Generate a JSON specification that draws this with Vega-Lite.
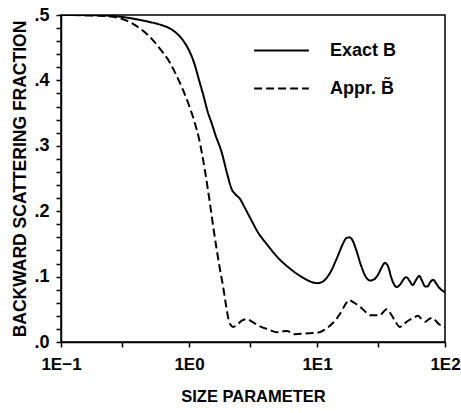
{
  "$schema": "https://vega.github.io/schema/vega-lite/v6.json",
  "width": 384,
  "height": 327,
  "autosize": {"type": "none"},
  "padding": {"left": 61, "top": 15, "right": 16, "bottom": 71},
  "background": "white",
  "config": {
    "font": "Liberation Sans",
    "view": {"stroke": "black", "strokeWidth": 1.5},
    "axis": {
      "domainColor": "black", "domainWidth": 1.5, "tickColor": "black", "tickWidth": 1.5,
      "labelColor": "black", "titleColor": "black", "labelFontWeight": "bold", "titleFontWeight": "bold",
      "labelFont": "Liberation Sans", "titleFont": "Liberation Sans", "grid": false
    },
    "legend": {"labelFont": "Liberation Sans"}
  },
  "data": {
    "values": [
      {"x": 0.1, "y": 0.5, "s": "Exact B"},
      {"x": 0.2, "y": 0.4995, "s": "Exact B"},
      {"x": 0.3, "y": 0.497, "s": "Exact B"},
      {"x": 0.4, "y": 0.493, "s": "Exact B"},
      {"x": 0.5, "y": 0.489, "s": "Exact B"},
      {"x": 0.6, "y": 0.485, "s": "Exact B"},
      {"x": 0.7, "y": 0.48, "s": "Exact B"},
      {"x": 0.8, "y": 0.472, "s": "Exact B"},
      {"x": 0.9, "y": 0.461, "s": "Exact B"},
      {"x": 1.0, "y": 0.446, "s": "Exact B"},
      {"x": 1.1, "y": 0.426, "s": "Exact B"},
      {"x": 1.2, "y": 0.4, "s": "Exact B"},
      {"x": 1.3, "y": 0.376, "s": "Exact B"},
      {"x": 1.4, "y": 0.352, "s": "Exact B"},
      {"x": 1.5, "y": 0.335, "s": "Exact B"},
      {"x": 1.6, "y": 0.318, "s": "Exact B"},
      {"x": 1.8, "y": 0.29, "s": "Exact B"},
      {"x": 2.0, "y": 0.255, "s": "Exact B"},
      {"x": 2.15, "y": 0.234, "s": "Exact B"},
      {"x": 2.3, "y": 0.226, "s": "Exact B"},
      {"x": 2.5, "y": 0.219, "s": "Exact B"},
      {"x": 2.7, "y": 0.207, "s": "Exact B"},
      {"x": 3.0, "y": 0.19, "s": "Exact B"},
      {"x": 3.5, "y": 0.166, "s": "Exact B"},
      {"x": 4.0, "y": 0.151, "s": "Exact B"},
      {"x": 5.0, "y": 0.128, "s": "Exact B"},
      {"x": 6.0, "y": 0.114, "s": "Exact B"},
      {"x": 7.0, "y": 0.104, "s": "Exact B"},
      {"x": 8.0, "y": 0.097, "s": "Exact B"},
      {"x": 9.0, "y": 0.092, "s": "Exact B"},
      {"x": 10, "y": 0.09, "s": "Exact B"},
      {"x": 11, "y": 0.092, "s": "Exact B"},
      {"x": 12, "y": 0.099, "s": "Exact B"},
      {"x": 13, "y": 0.11, "s": "Exact B"},
      {"x": 14, "y": 0.124, "s": "Exact B"},
      {"x": 15, "y": 0.138, "s": "Exact B"},
      {"x": 16, "y": 0.151, "s": "Exact B"},
      {"x": 17, "y": 0.159, "s": "Exact B"},
      {"x": 18, "y": 0.16, "s": "Exact B"},
      {"x": 19, "y": 0.155, "s": "Exact B"},
      {"x": 20, "y": 0.144, "s": "Exact B"},
      {"x": 22, "y": 0.118, "s": "Exact B"},
      {"x": 24, "y": 0.1, "s": "Exact B"},
      {"x": 26, "y": 0.094, "s": "Exact B"},
      {"x": 28, "y": 0.096, "s": "Exact B"},
      {"x": 30, "y": 0.103, "s": "Exact B"},
      {"x": 32, "y": 0.114, "s": "Exact B"},
      {"x": 34, "y": 0.121, "s": "Exact B"},
      {"x": 36, "y": 0.115, "s": "Exact B"},
      {"x": 38, "y": 0.099, "s": "Exact B"},
      {"x": 40, "y": 0.088, "s": "Exact B"},
      {"x": 42, "y": 0.084, "s": "Exact B"},
      {"x": 45, "y": 0.089, "s": "Exact B"},
      {"x": 48, "y": 0.097, "s": "Exact B"},
      {"x": 50, "y": 0.099, "s": "Exact B"},
      {"x": 53, "y": 0.093, "s": "Exact B"},
      {"x": 56, "y": 0.087, "s": "Exact B"},
      {"x": 59, "y": 0.094, "s": "Exact B"},
      {"x": 63, "y": 0.101, "s": "Exact B"},
      {"x": 66, "y": 0.094, "s": "Exact B"},
      {"x": 70, "y": 0.085, "s": "Exact B"},
      {"x": 73, "y": 0.085, "s": "Exact B"},
      {"x": 77, "y": 0.092, "s": "Exact B"},
      {"x": 81, "y": 0.095, "s": "Exact B"},
      {"x": 85, "y": 0.09, "s": "Exact B"},
      {"x": 90, "y": 0.083, "s": "Exact B"},
      {"x": 95, "y": 0.079, "s": "Exact B"},
      {"x": 100, "y": 0.076, "s": "Exact B"},
      {"x": 0.1, "y": 0.5, "s": "Appr. B̃"},
      {"x": 0.2, "y": 0.499, "s": "Appr. B̃"},
      {"x": 0.3, "y": 0.494, "s": "Appr. B̃"},
      {"x": 0.41, "y": 0.48, "s": "Appr. B̃"},
      {"x": 0.52, "y": 0.462, "s": "Appr. B̃"},
      {"x": 0.6, "y": 0.447, "s": "Appr. B̃"},
      {"x": 0.71, "y": 0.427, "s": "Appr. B̃"},
      {"x": 0.8, "y": 0.407, "s": "Appr. B̃"},
      {"x": 0.9, "y": 0.385, "s": "Appr. B̃"},
      {"x": 1.0, "y": 0.362, "s": "Appr. B̃"},
      {"x": 1.11, "y": 0.335, "s": "Appr. B̃"},
      {"x": 1.2, "y": 0.31, "s": "Appr. B̃"},
      {"x": 1.33, "y": 0.263, "s": "Appr. B̃"},
      {"x": 1.45, "y": 0.215, "s": "Appr. B̃"},
      {"x": 1.55, "y": 0.175, "s": "Appr. B̃"},
      {"x": 1.65, "y": 0.14, "s": "Appr. B̃"},
      {"x": 1.75, "y": 0.11, "s": "Appr. B̃"},
      {"x": 1.85, "y": 0.084, "s": "Appr. B̃"},
      {"x": 1.95, "y": 0.055, "s": "Appr. B̃"},
      {"x": 2.02, "y": 0.038, "s": "Appr. B̃"},
      {"x": 2.1, "y": 0.027, "s": "Appr. B̃"},
      {"x": 2.21, "y": 0.023, "s": "Appr. B̃"},
      {"x": 2.4, "y": 0.027, "s": "Appr. B̃"},
      {"x": 2.6, "y": 0.033, "s": "Appr. B̃"},
      {"x": 2.84, "y": 0.035, "s": "Appr. B̃"},
      {"x": 3.1, "y": 0.031, "s": "Appr. B̃"},
      {"x": 3.59, "y": 0.024, "s": "Appr. B̃"},
      {"x": 4.2, "y": 0.019, "s": "Appr. B̃"},
      {"x": 4.87, "y": 0.015, "s": "Appr. B̃"},
      {"x": 5.3, "y": 0.016, "s": "Appr. B̃"},
      {"x": 5.8, "y": 0.017, "s": "Appr. B̃"},
      {"x": 6.7, "y": 0.012, "s": "Appr. B̃"},
      {"x": 8.0, "y": 0.013, "s": "Appr. B̃"},
      {"x": 10, "y": 0.014, "s": "Appr. B̃"},
      {"x": 11.5, "y": 0.019, "s": "Appr. B̃"},
      {"x": 13.3, "y": 0.029, "s": "Appr. B̃"},
      {"x": 15, "y": 0.042, "s": "Appr. B̃"},
      {"x": 16.5, "y": 0.056, "s": "Appr. B̃"},
      {"x": 17.8, "y": 0.064, "s": "Appr. B̃"},
      {"x": 19.5, "y": 0.06, "s": "Appr. B̃"},
      {"x": 21.7, "y": 0.054, "s": "Appr. B̃"},
      {"x": 24, "y": 0.046, "s": "Appr. B̃"},
      {"x": 26, "y": 0.041, "s": "Appr. B̃"},
      {"x": 31, "y": 0.041, "s": "Appr. B̃"},
      {"x": 33, "y": 0.046, "s": "Appr. B̃"},
      {"x": 35, "y": 0.05, "s": "Appr. B̃"},
      {"x": 38, "y": 0.042, "s": "Appr. B̃"},
      {"x": 41, "y": 0.031, "s": "Appr. B̃"},
      {"x": 44.5, "y": 0.023, "s": "Appr. B̃"},
      {"x": 48, "y": 0.028, "s": "Appr. B̃"},
      {"x": 53, "y": 0.034, "s": "Appr. B̃"},
      {"x": 58, "y": 0.038, "s": "Appr. B̃"},
      {"x": 61.5, "y": 0.04, "s": "Appr. B̃"},
      {"x": 65, "y": 0.036, "s": "Appr. B̃"},
      {"x": 70, "y": 0.031, "s": "Appr. B̃"},
      {"x": 75, "y": 0.035, "s": "Appr. B̃"},
      {"x": 79, "y": 0.037, "s": "Appr. B̃"},
      {"x": 85, "y": 0.032, "s": "Appr. B̃"},
      {"x": 90, "y": 0.027, "s": "Appr. B̃"},
      {"x": 96, "y": 0.024, "s": "Appr. B̃"},
      {"x": 100, "y": 0.023, "s": "Appr. B̃"}
    ]
  },
  "mark": {"type": "line", "interpolate": "monotone", "color": "black", "strokeWidth": 2, "clip": true},
  "encoding": {
    "x": {
      "field": "x", "type": "quantitative",
      "scale": {"type": "log", "domain": [0.1, 100], "nice": false},
      "axis": {
        "title": "SIZE PARAMETER", "titleFontSize": 16.5, "titlePadding": 16,
        "values": [0.1, 0.3, 1, 3, 10, 30, 100],
        "labelExpr": "datum.value == 0.1 ? '1E−1' : datum.value == 1 ? '1E0' : datum.value == 10 ? '1E1' : datum.value == 100 ? '1E2' : ''",
        "labelFontSize": 17, "labelPadding": 9, "tickSize": 5, "labelFlush": false, "labelOverlap": false
      }
    },
    "y": {
      "field": "y", "type": "quantitative",
      "scale": {"domain": [0, 0.5], "nice": false},
      "axis": {
        "title": "BACKWARD SCATTERING FRACTION", "titleFontSize": 17.5, "titlePadding": 4,
        "values": [0, 0.02, 0.04, 0.06, 0.08, 0.1, 0.12, 0.14, 0.16, 0.18, 0.2, 0.22, 0.24, 0.26, 0.28, 0.3, 0.32, 0.34, 0.36, 0.38, 0.4, 0.42, 0.44, 0.46, 0.48, 0.5],
        "labelExpr": "abs(datum.value * 10 - round(datum.value * 10)) < 0.001 ? replace(format(datum.value, '.1f'), '0.', '.') : ''",
        "labelFontSize": 18, "labelPadding": 7, "tickSize": 5, "labelOverlap": false
      }
    },
    "strokeDash": {
      "field": "s", "type": "nominal",
      "scale": {"domain": ["Exact B", "Appr. B̃"], "range": [[1, 0], [8, 4]]},
      "legend": {
        "title": null, "orient": "none", "legendX": 192, "legendY": 7,
        "symbolType": "stroke", "symbolSize": 3000, "symbolStrokeWidth": 2, "symbolStrokeColor": "black",
        "labelFontSize": 18, "labelFontWeight": "bold", "labelColor": "black", "labelOffset": 20, "rowPadding": -2
      }
    }
  }
}
